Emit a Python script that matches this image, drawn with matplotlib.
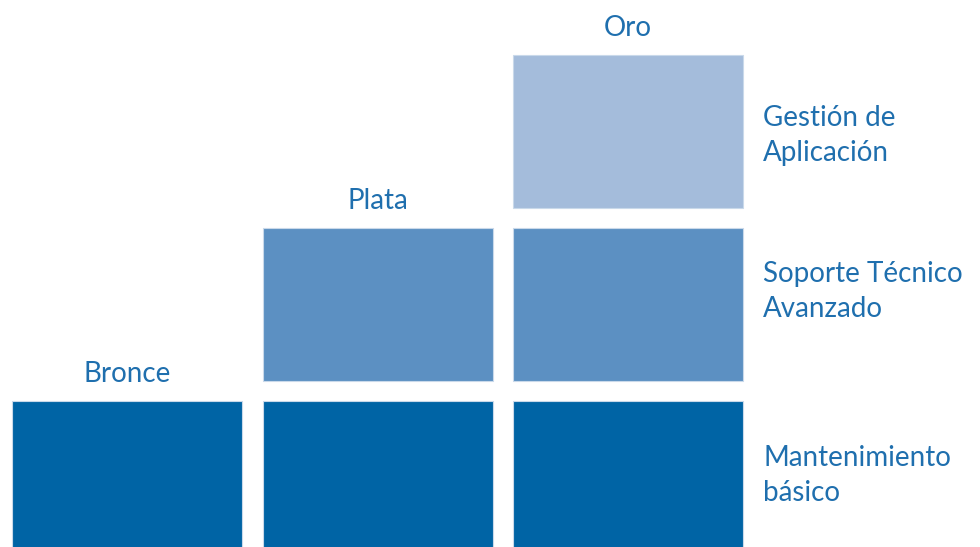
import matplotlib
matplotlib.use("Agg")
import matplotlib.pyplot as plt

# niveles de servicio (columnas) y servicios incluidos (filas)
tiers = ["Bronce", "Plata", "Oro"]
n_services = [1, 2, 3]
services = ["Mantenimiento\nbásico", "Soporte Técnico\nAvanzado", "Gestión de\nAplicación"]
row_colors = ["#0064A5", "#5C90C2", "#A4BCDB"]
txt_color = "#1F6FAE"

plt.rcParams['font.family'] = ['Lato', 'DejaVu Sans']

fig = plt.figure(figsize=(9.8, 5.47), dpi=100)
ax = fig.add_axes([0, 0, 1, 1])

bar_w = 230 / 250.5
bar_h = 153 / 173.
# petit decalage vertical des etiquettes de droite (en px)
lab_shift = [2, 13, -4]

for i, tier in enumerate(tiers):
    for j in range(n_services[i]):
        ax.bar(i, bar_h, bottom=j, width=bar_w, color=row_colors[j],
               edgecolor="#C9D9EA", linewidth=0.8, align="center")
    top = n_services[i] - 1 + bar_h
    ax.text(i, top + 0.08, tier, ha="center", va="bottom",
            fontsize=20, color=txt_color)

for j, s in enumerate(services):
    ax.text(2.539, j + bar_h / 2 + lab_shift[j] / 173., s, ha="left", va="center",
            fontsize=20, color=txt_color, linespacing=1.42)

ax.set_xlim(-127 / 250.5, (980 - 127) / 250.5)
ax.set_ylim(7 / 173., 554 / 173.)
ax.axis("off")

fig.savefig("out.png", dpi=100)
plt.close(fig)
